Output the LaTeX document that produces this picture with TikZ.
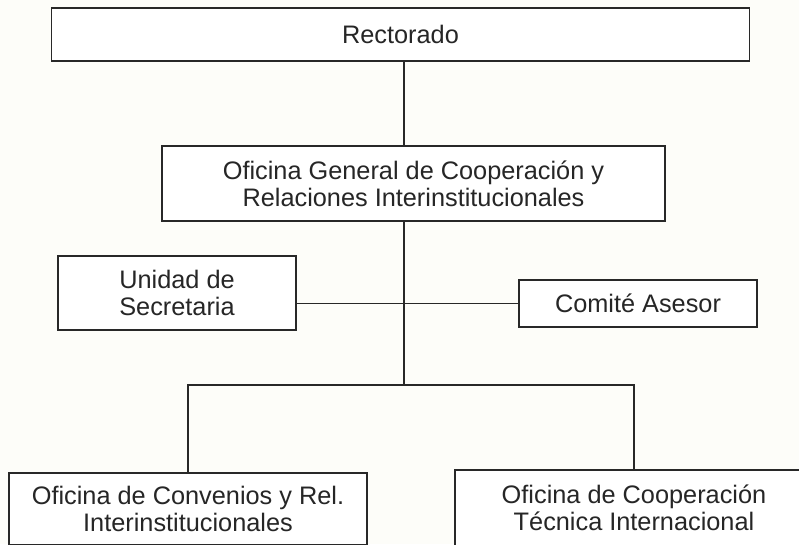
\documentclass[tikz,border=0pt]{standalone}
\usepackage{fontspec}
\setmainfont{Liberation Sans}
\definecolor{paper}{RGB}{253,253,249}
\definecolor{ink}{RGB}{40,40,40}
\tikzset{
  unit/.style={draw=ink, fill=white, line width=1pt, align=center, inner sep=0pt},
  link/.style={draw=ink, line width=1pt}
}
\begin{document}
\begin{tikzpicture}[x=0.025cm, y=-0.025cm, font=\fontsize{18}{19.3}\selectfont, text=black!85, line join=miter]
\useasboundingbox (0,0) rectangle (799,544);
\clip (0,0) rectangle (799,544);
\fill[paper] (0,0) rectangle (799,544);
% boxes
\node[unit, minimum width=698*0.025cm, minimum height=53*0.025cm] (rect) at (400.5,34.5) {Rectorado};
\node[unit, minimum width=503*0.025cm, minimum height=75*0.025cm] (ofgen) at (413.5,183.5) {Oficina General de Cooperación y\\Relaciones Interinstitucionales};
\node[unit, minimum width=238*0.025cm, minimum height=74*0.025cm] (unidad) at (177,293) {Unidad de\\Secretaria};
\node[unit, minimum width=238*0.025cm, minimum height=47*0.025cm] (comite) at (638,303.5) {Comité Asesor};
\node[unit, minimum width=358*0.025cm, minimum height=72*0.025cm] (conv) at (188,509) {Oficina de Convenios y Rel.\\Interinstitucionales};
\node[unit, minimum width=358*0.025cm, minimum height=76*0.025cm] (coop) at (634,508) {Oficina de Cooperación\\Técnica Internacional};
% lines
\coordinate (bus) at (404,385);
\draw[link] (rect.south -| bus) -- (ofgen.north -| bus);
\draw[link] (ofgen.south -| bus) -- (bus);
\draw[link] (unidad.east |- comite.west) -- (comite.west);
\draw[link] (conv.north) |- (bus) -| (coop.north);
\end{tikzpicture}
\end{document}
